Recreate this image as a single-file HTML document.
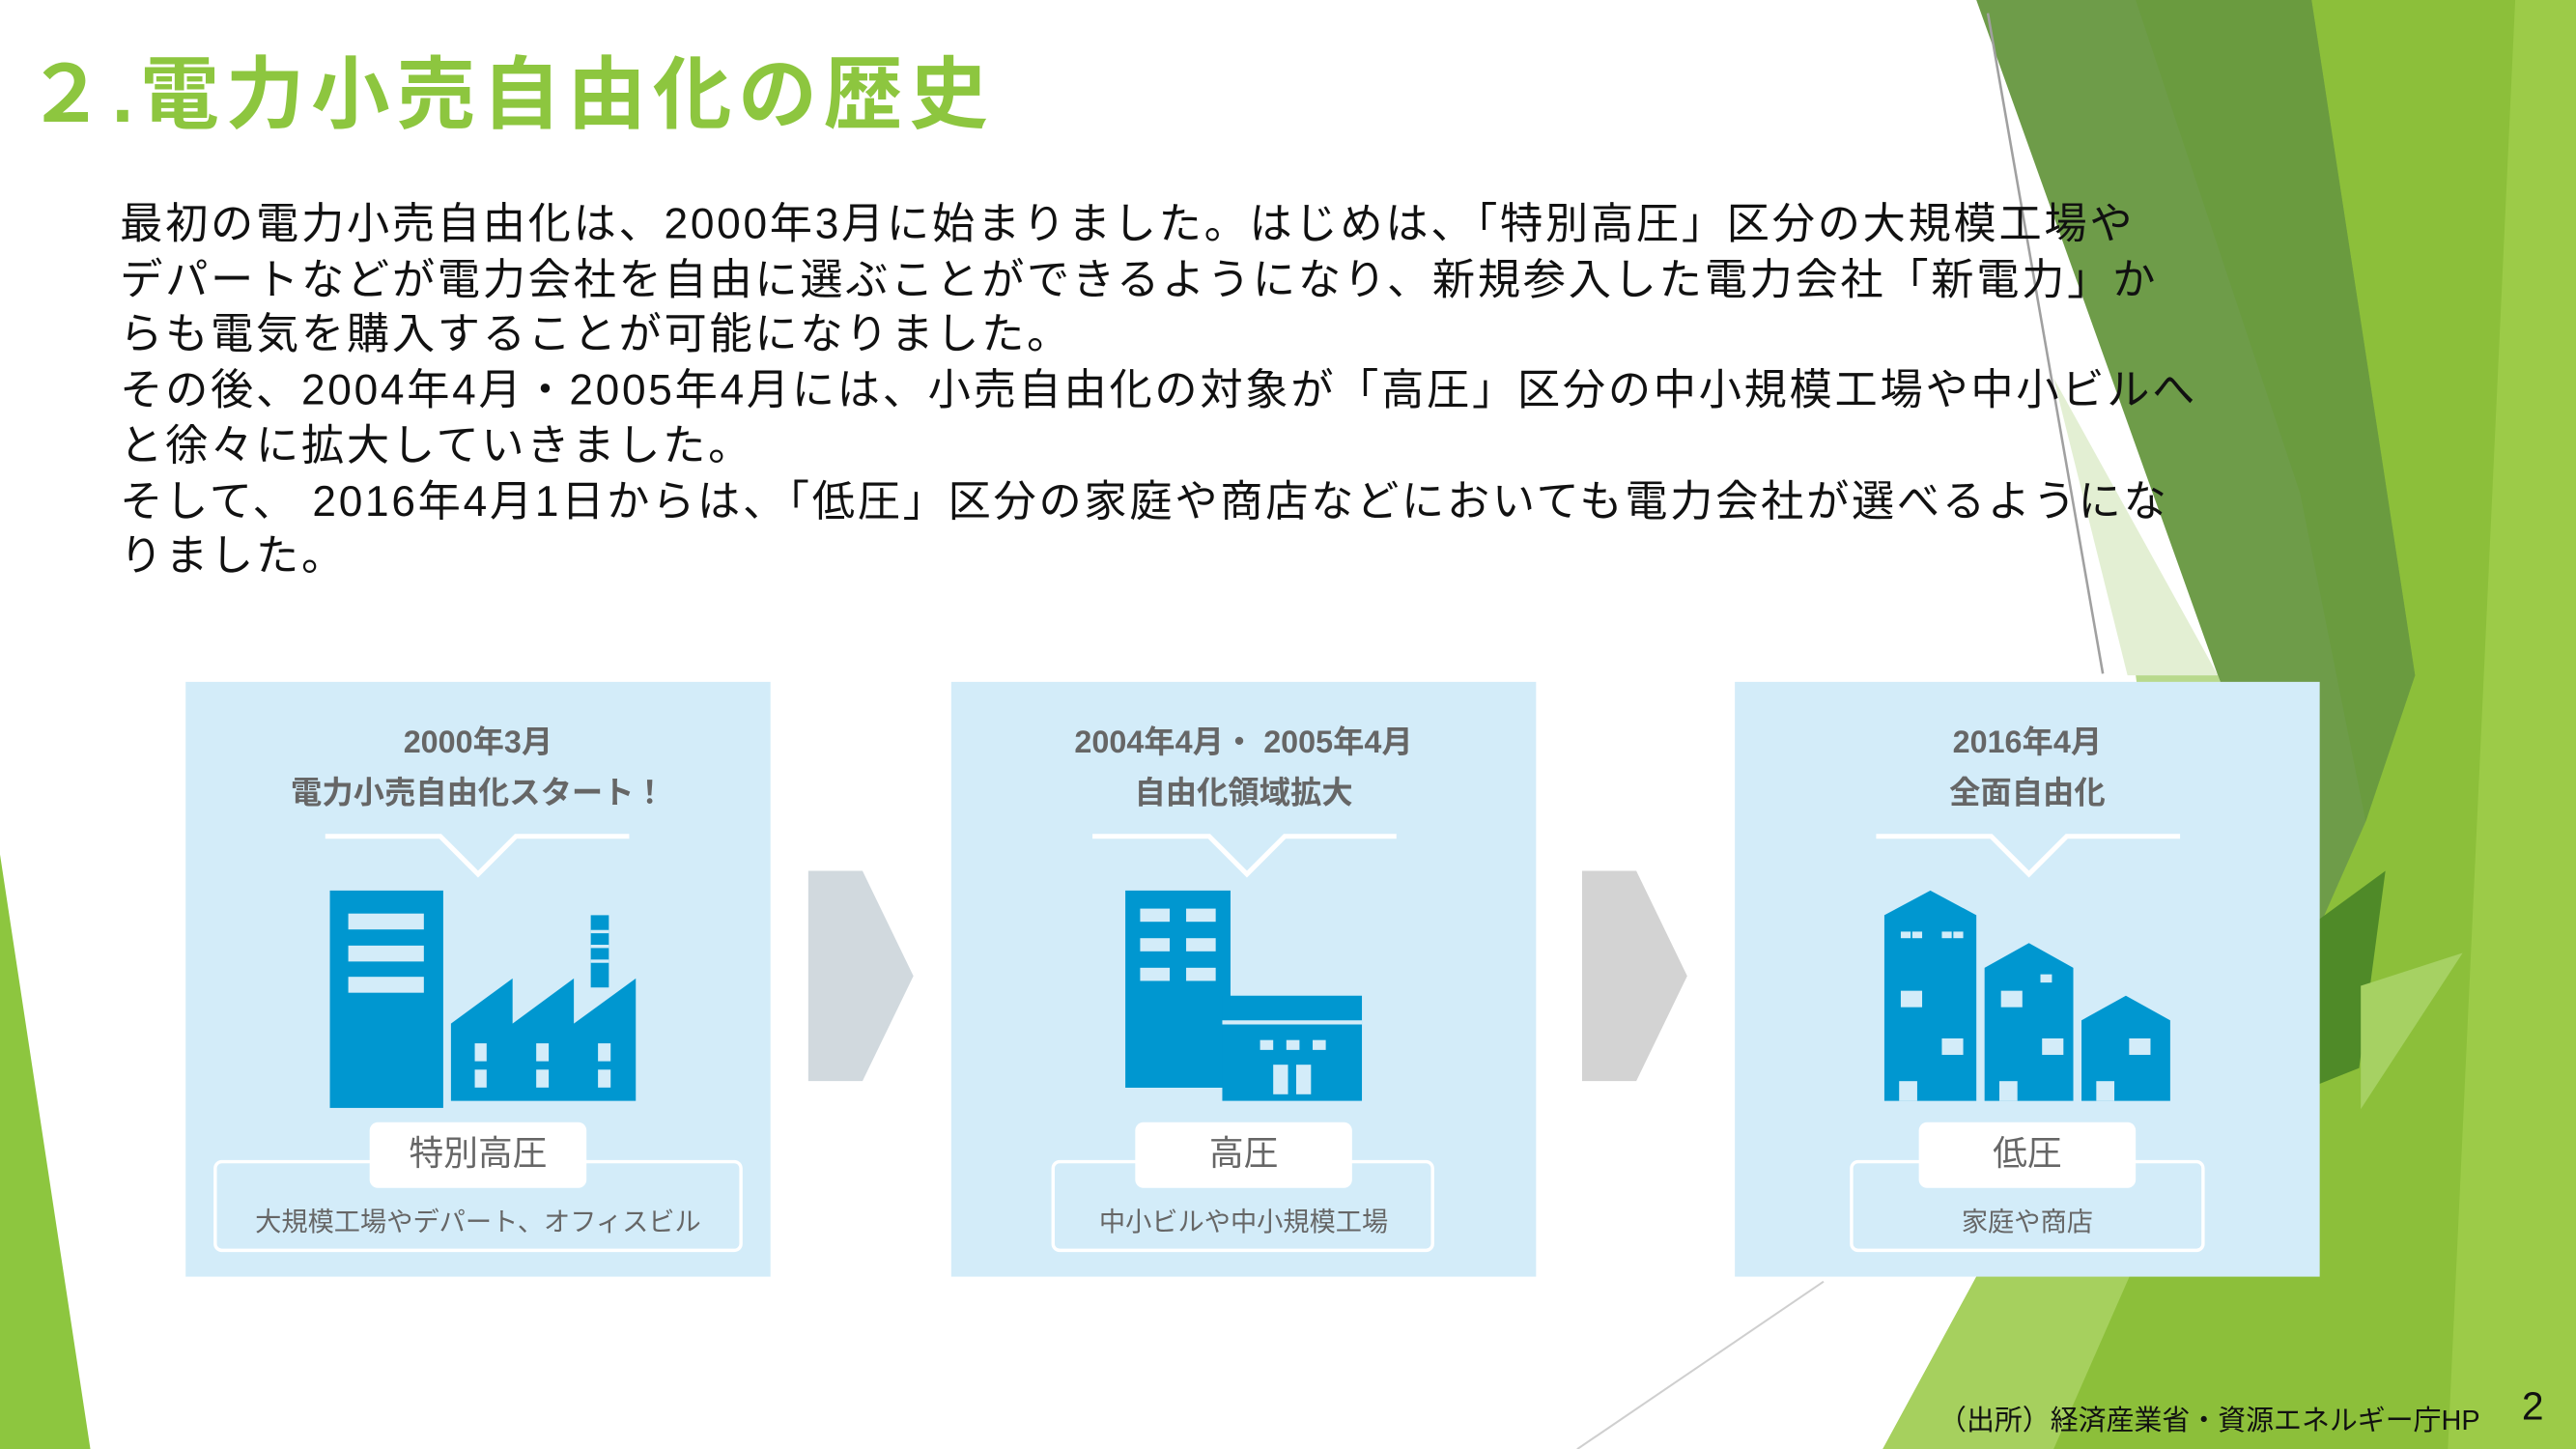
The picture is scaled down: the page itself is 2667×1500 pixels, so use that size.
<!DOCTYPE html>
<html><head><meta charset="utf-8">
<style>
html,body{margin:0;padding:0;width:2667px;height:1500px;overflow:hidden;background:#fff;}
#s{position:absolute;left:0;top:0;width:1568px;height:882px;transform:scale(1.70089);transform-origin:0 0;font-family:"Liberation Sans","Noto Sans CJK JP",sans-serif;}
.t{position:absolute;white-space:nowrap;}
.card{position:absolute;top:415px;width:356px;height:362px;background:#d3ecf9;}
.h{position:absolute;left:0;width:100%;text-align:center;color:#666;font-weight:bold;font-size:19px;}
.ob{position:absolute;top:291px;height:52px;border:2px solid #fff;border-radius:5px;}
.pill{position:absolute;left:50%;transform:translateX(-50%);top:268px;width:132px;height:40px;background:#fff;border-radius:5px;text-align:center;line-height:40px;font-size:21px;color:#666;}
.sub{position:absolute;left:0;width:100%;top:315px;text-align:center;font-size:16px;color:#666;}
</style></head><body><div id="s">
<svg width="1568" height="882" style="position:absolute;left:0;top:0">
<polygon points="0,520 55,882 0,882" fill="#8dc63f"/>
<polygon points="1380,0 1568,0 1568,882 1146,882 1203,777 1300,600 1410,568" fill="#8cbf3a"/>
<polygon points="1531,0 1568,0 1568,882 1490,882" fill="#9ccb48"/>
<polygon points="1203,0 1407,0 1470,411 1440,500 1410,568 1350,411" fill="#6e9c49"/>
<polygon points="1300,0 1407,0 1470,411 1440,500 1400,300" fill="#6a9b3f"/>
<polygon points="1250,230 1350,411 1295,411" fill="#e3efd3"/>
<polygon points="1300,411 1350,411 1410,568 1330,640" fill="#b8d98c"/>
<polygon points="1411,560 1452,530 1436,650 1411,660" fill="#4f8a28"/>
<polygon points="1499,580 1437,600 1437,675" fill="#a6d163"/>
<polygon points="1203,777 1300,650 1330,700 1250,882 1146,882" fill="#a6d05e"/>
<line x1="1210" y1="8" x2="1280" y2="410" stroke="#a0a0a0" stroke-width="1.5"/>
<line x1="960" y1="882" x2="1110" y2="780" stroke="#cfcfcf" stroke-width="1.2"/>
<polygon points="492,530 525,530 556,594 525,658 492,658" fill="#d1d9de"/>
<polygon points="963,530 996,530 1027,594 996,658 963,658" fill="#d3d3d3"/>
</svg>
<div class="t" style="left:16px;top:18px;font-size:48px;font-weight:bold;color:#8dc63f;letter-spacing:4px">２.電力小売自由化の歴史</div>
<div class="t" style="left:73px;top:120px;font-size:26px;letter-spacing:1.6px;line-height:33.7px;color:#111">最初の電力小売自由化は、2000年3月に始まりました。はじめは、「特別高圧」区分の大規模工場や<br>デパートなどが電力会社を自由に選ぶことができるようになり、新規参入した電力会社「新電力」か<br>らも電気を購入することが可能になりました。<br>その後、2004年4月・2005年4月には、小売自由化の対象が「高圧」区分の中小規模工場や中小ビルへ<br>と徐々に拡大していきました。<br>そして、 2016年4月1日からは、「低圧」区分の家庭や商店などにおいても電力会社が選べるようにな<br>りました。</div>

<div class="card" style="left:113px">
<div class="h" style="top:22px">2000年3月</div><div class="h" style="top:53px">電力小売自由化スタート！</div>
<svg width="356" height="362" style="position:absolute;left:0;top:0">
<polyline points="85,94 155,94 178,117 201,94 270,94" fill="none" stroke="#fff" stroke-width="3"/>
<g fill="#0097d0">
<rect x="87.8" y="127" width="69" height="132.3"/>
<polygon points="161.5,208 199,180.5 199,208 236.3,180.5 236.3,208 274,180.5 274,255 161.5,255"/>
<rect x="246.6" y="142" width="11" height="44"/>
</g>
<g fill="#d3ecf9">
<rect x="99" y="141" width="46" height="9.7"/><rect x="99" y="160.5" width="46" height="9.7"/><rect x="99" y="179.5" width="46" height="9.7"/>
<rect x="176" y="220" width="7.2" height="10.9"/><rect x="213.4" y="220" width="7.6" height="10.9"/><rect x="251" y="220" width="7.7" height="10.9"/>
<rect x="176" y="236" width="7.2" height="10.9"/><rect x="213.4" y="236" width="7.6" height="10.9"/><rect x="251" y="236" width="7.7" height="10.9"/>
<rect x="246.6" y="151" width="11" height="2"/><rect x="246.6" y="160" width="11" height="2"/><rect x="246.6" y="169" width="11" height="2"/>
</g>
</svg>
<div class="ob" style="left:17px;right:17px"></div><div class="pill">特別高圧</div><div class="sub">大規模工場やデパート、オフィスビル</div>
</div>

<div class="card" style="left:579px">
<div class="h" style="top:22px">2004年4月・ 2005年4月</div><div class="h" style="top:53px">自由化領域拡大</div>
<svg width="356" height="362" style="position:absolute;left:0;top:0">
<polyline points="86,94 157,94 180,117 203,94 271,94" fill="none" stroke="#fff" stroke-width="3"/>
<g fill="#0097d0"><rect x="106" y="127" width="64" height="120"/><rect x="165" y="191" width="85" height="64"/></g>
<g fill="#d3ecf9">
<rect x="115" y="138" width="18" height="8"/><rect x="143" y="138" width="18" height="8"/>
<rect x="115" y="156" width="18" height="8"/><rect x="143" y="156" width="18" height="8"/>
<rect x="115" y="174" width="18" height="8"/><rect x="143" y="174" width="18" height="8"/>
<rect x="165" y="206" width="85" height="2.5"/>
<rect x="188" y="218" width="8" height="6"/><rect x="204" y="218" width="8" height="6"/><rect x="220" y="218" width="8" height="6"/>
<rect x="196" y="233" width="9" height="18"/><rect x="210" y="233" width="9" height="18"/>
</g></svg>
<div class="ob" style="left:61px;width:229px"></div><div class="pill">高圧</div><div class="sub">中小ビルや中小規模工場</div>
</div>

<div class="card" style="left:1056px">
<div class="h" style="top:22px">2016年4月</div><div class="h" style="top:53px">全面自由化</div>
<svg width="356" height="362" style="position:absolute;left:0;top:0">
<polyline points="86,94 156,94 179,117 202,94 271,94" fill="none" stroke="#fff" stroke-width="3"/>
<g fill="#0097d0">
<polygon points="91,142 119,127 147,142 147,255 91,255"/>
<polygon points="152,174 179,159 206,174 206,255 152,255"/>
<polygon points="211,206 238,191 265,206 265,255 211,255"/>
</g>
<g fill="#d3ecf9">
<rect x="101" y="152" width="6" height="4"/><rect x="108" y="152" width="6" height="4"/><rect x="126" y="152" width="6" height="4"/><rect x="133" y="152" width="6" height="4"/>
<rect x="101" y="188" width="13" height="10"/><rect x="126" y="217" width="13" height="10"/>
<rect x="100" y="243" width="11" height="12"/>
<rect x="162" y="188" width="13" height="10"/><rect x="186" y="178" width="7" height="5"/><rect x="187" y="217" width="13" height="10"/>
<rect x="161" y="243" width="11" height="12"/>
<rect x="240" y="217" width="13" height="10"/><rect x="220" y="243" width="11" height="12"/>
</g></svg>
<div class="ob" style="left:70px;width:212px"></div><div class="pill">低圧</div><div class="sub">家庭や商店</div>
</div>

<div class="t" style="left:1180px;top:850px;font-size:17px;color:#111">（出所）経済産業省・資源エネルギー庁HP</div>
<div class="t" style="left:1535px;top:843px;font-size:24px;color:#111">2</div>
</div></body></html>
